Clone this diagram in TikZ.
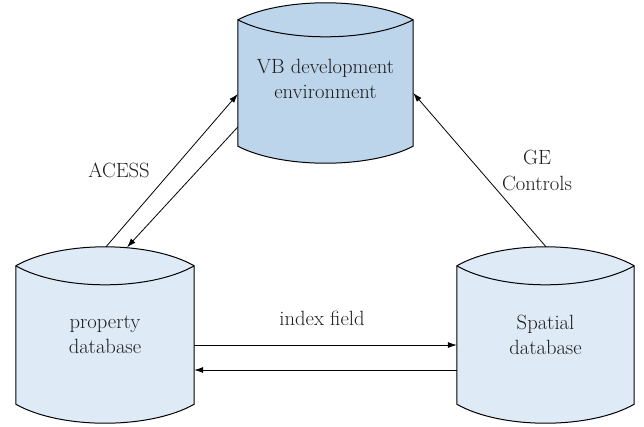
\documentclass[tikz,border=0pt]{standalone}
\usetikzlibrary{arrows.meta,backgrounds}
\definecolor{vbblue}{RGB}{189,213,235}
\definecolor{dbblue}{RGB}{222,234,246}
\definecolor{textgray}{RGB}{30,28,28}
% #1 node name, #2 fill, #3 shift of upper corners, #4 shift of lower corners,
% #5 control offset (4/3 of arc depth), #6 quarter width
\newcommand\dbcyl[6]{%
  \path[fill=#2,draw=black,line width=1pt]
    ([yshift=#3pt]#1.north west)
      .. controls +(#6pt,#5pt) and +(-#6pt,#5pt) .. ([yshift=#3pt]#1.north east)
      -- ([yshift=#4pt]#1.south east)
      .. controls +(-#6pt,-#5pt) and +(#6pt,-#5pt) .. ([yshift=#4pt]#1.south west)
      -- cycle;
  \draw[line width=1pt]
    ([yshift=#3pt]#1.north west)
      .. controls +(#6pt,-#5pt) and +(-#6pt,-#5pt) .. ([yshift=#3pt]#1.north east);
}
\tikzset{
  cyl/.style={inner sep=0pt,align=center,text=textgray,
    font=\fontsize{20.6}{25}\selectfont},
  lbl/.style={inner sep=0pt,align=center,text=textgray,
    font=\fontsize{20.6}{26}\selectfont},
  conn/.style={line width=0.8pt,-{Latex[length=9pt,width=6pt]}}
}
\begin{document}
\begin{tikzpicture}[x=1pt,y=-1pt]
\useasboundingbox (0,0) rectangle (644,426);
\node[cyl,minimum width=175pt,minimum height=160pt] (vb) at (325.5,79)
  {VB development\\environment};
\node[cyl,minimum width=178pt,minimum height=176pt] (prop) at (105,335)
  {property\\database};
\node[cyl,minimum width=177pt,minimum height=176pt] (sp) at (545.5,335)
  {Spatial\\database};
\begin{scope}[on background layer]
  \dbcyl{vb}{vbblue}{-21}{13}{22.67}{43.75}
  \dbcyl{prop}{dbblue}{-19}{19}{25.33}{44.5}
  \dbcyl{sp}{dbblue}{-19}{19}{25.33}{44.25}
\end{scope}
\draw[conn] ([xshift=1pt]prop.north) -- ([yshift=-15pt]vb.west);
\draw[conn] ([yshift=-48pt]vb.west) -- ([xshift=22pt,yshift=-0.5pt]prop.north);
\draw[conn] ([xshift=0.5pt]sp.north) -- ([yshift=-14pt]vb.east);
\draw[conn] ([yshift=-10pt]prop.east) -- ([yshift=-10pt]sp.west);
\draw[conn] ([yshift=-35pt]sp.west) -- ([yshift=-35pt]prop.east);
\node[lbl] (lacess) at (119,170) {ACESS};
\node[lbl] (lge) at (537,170) {GE\\Controls};
\node[lbl] (lindex) at (322,318) {index field};
\end{tikzpicture}
\end{document}
